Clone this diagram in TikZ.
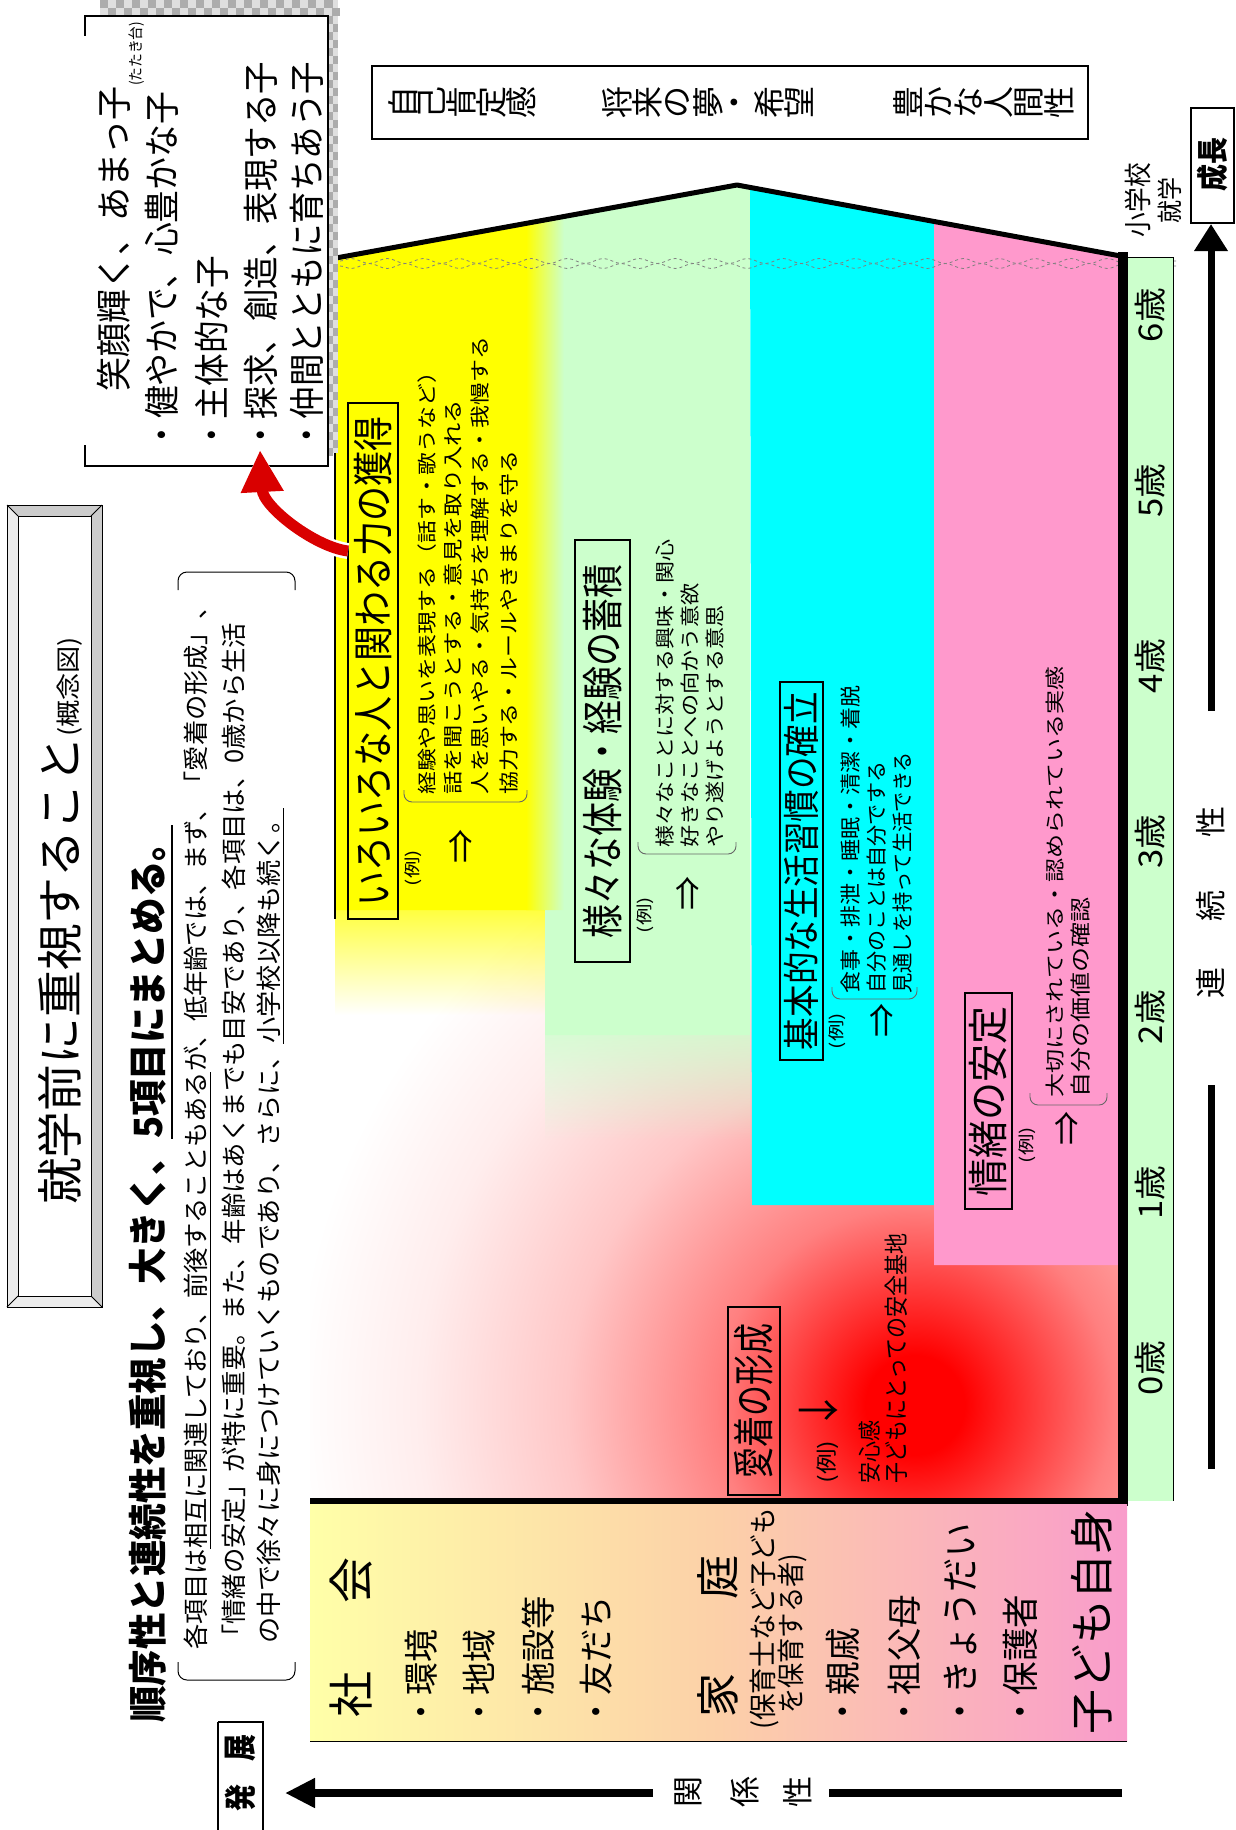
\documentclass[tikz,border=0pt]{standalone}
\usepackage{fontspec}
\newfontfamily\jp{Noto Sans CJK JP}
\usetikzlibrary{arrows.meta,decorations.pathmorphing,fadings}
\definecolor{cyel}{HTML}{FFFF00}
\definecolor{cgrn}{HTML}{CCFFCC}
\definecolor{ccyn}{HTML}{00FFFF}
\definecolor{cpnk}{HTML}{FF99CC}
\definecolor{tyel}{HTML}{FFFFA8}
\definecolor{tpea}{HTML}{FCD0A8}
\definecolor{tpnk}{HTML}{F99CCB}
\newcommand{\rsz}[3]{\resizebox{#1pt}{\dimexpr #2pt*98/100\relax}{#3}}
\pgfdeclareradialshading{redglow}{\pgfpoint{0bp}{0bp}}{color(0bp)=(red); color(2bp)=(red); color(8bp)=(red!50!white); color(14bp)=(red!22!white); color(20bp)=(red!7!white); color(25bp)=(white); color(50bp)=(white)}
\tikzfading[name=fadedown, top color=transparent!0, bottom color=transparent!100]
\tikzset{
  rt/.style={rotate=90, inner sep=0pt, font=\jp},
  ch/.style={rotate=90, inner sep=0pt, font={\jp\fontsize{#1}{#1}\selectfont}},
  bx/.style={draw=black, line width=1.2pt},
  brk/.style={draw=black!60, line width=0.9pt, rounded corners=8pt},
}
\begin{document}
\begin{tikzpicture}[x=1pt,y=-1pt]
\useasboundingbox (0,0) rectangle (1236,1830);
\fill[white] (0,0) rectangle (1236,1830);

% ---------- chart background ----------
\begin{scope}
\clip (310,257) rectangle (1120,1498);
\shade[shading=redglow] (915,1405) circle (620pt);
\end{scope}
\fill[cyel] (335,258) -- (545,219.8) -- (545,910) -- (335,910) -- cycle;
\fill[cyel, path fading=fadedown] (335,875) rectangle (545,1015);
\fill[cgrn] (545,219.8) -- (737,185) -- (750,187.4) -- (750,1035) -- (545,1035) -- cycle;
\fill[cgrn, path fading=fadedown] (545,1000) rectangle (750,1140);
\shade[left color=cyel, right color=cgrn] (526,223.3) -- (564,216.4) -- (564,910) -- (526,910) -- cycle;
\fill[ccyn] (750,187.4) -- (934,221.7) -- (934,1205) -- (752,1205) -- cycle;
\fill[cpnk] (934,221.7) -- (1120,256.4) -- (1120,1265) -- (934,1265) -- cycle;

\draw[line width=5pt, line join=round] (336,258) -- (737,185) -- (1126,257);
\draw[gray, dashed, line width=0.8pt, decorate, decoration={snake, amplitude=2.5pt, segment length=36pt}] (340,261) -- (1176,261);
\draw[gray, dashed, line width=0.8pt, decorate, decoration={snake, amplitude=2.5pt, segment length=36pt, mirror}] (340,266) -- (1176,266);
\draw[line width=1.2pt] (335,258) -- (335,919);

% age bar
\fill[cgrn] (1128,257) rectangle (1173,1501);
\draw[line width=1pt] (1123,257) -- (1174,257) (1173,257) -- (1173,1501);
\draw[line width=10pt] (1123,252) -- (1123,1506);
\draw[line width=6pt] (310,1501) -- (1128,1501);

% table
\shade[left color=tyel, right color=tpnk, middle color=tpea] (310,1504) rectangle (1127,1741);
\draw[line width=1pt] (310,1741) -- (1127,1741);

% ---------- title ----------
\fill[gray!40] (7,505) rectangle (102,1307);
\fill[gray!15] (7,505) -- (18,516) -- (18,1296) -- (7,1307) -- cycle;
\fill[gray!15] (7,1307) -- (18,1296) -- (91,1296) -- (102,1307) -- cycle;
\fill[white] (18,516) rectangle (91,1296);
\draw[line width=1pt] (7,505) rectangle (102,1307);
\draw[line width=1pt] (18,516) rectangle (91,1296);
\draw[line width=0.8pt] (7,505) -- (18,516) (102,505) -- (91,516) (7,1307) -- (18,1296) (102,1307) -- (91,1296);
\node[rt, anchor=west] (title) at (60,1205) {\rsz{468}{40}{就学前に重視すること}\rsz{100}{21}{(概念図)}};

\node[rt, anchor=west] (sub) at (152,1723) {\bfseries\rsz{898}{34}{順序性と連続性を重視し、大きく、\underline{5項目にまとめる。}}};

\node[rt, anchor=west] (p1) at (198,1650) {\rsz{1055}{22}{各項目は\underline{相互に関連しており、前後することもある}が、低年齢では、まず、「愛着の形成」、}};
\node[rt, anchor=west] (p2) at (234,1650) {\rsz{1027}{22}{「情緒の安定」が特に重要。また、年齢はあくまでも目安であり、各項目は、0歳から生活}};
\node[rt, anchor=west] (p3) at (271,1644) {\rsz{836}{22}{の中で徐々に身につけていくものであり、さらに、\underline{小学校以降も続く。}}};
\draw[line width=1pt, rounded corners=9pt] (178,1662) -- (178,1680) -- (295,1680) -- (295,1662);
\draw[line width=1pt, rounded corners=9pt] (178,590) -- (178,572) -- (295,572) -- (295,590);

% ---------- goal box ----------
\fill[gray!25] (100,0) rectangle (338,16);
\fill[gray!25] (328,0) rectangle (338,453);
\foreach \i in {0,...,29}{\foreach \j in {0,1}{\pgfmathtruncatemacro\kk{mod(\i+\j,2)}\ifnum\kk=0 \fill[gray!65] ({100+\i*8},{\j*8}) rectangle +(8,8);\fi}}
\foreach \j in {0,...,56}{\foreach \i in {0,1}{\pgfmathtruncatemacro\kk{mod(\i+\j,2)}\ifnum\kk=0 \fill[gray!65] ({328+\i*5},{\j*8}) rectangle +(5,8);\fi}}
\fill[white] (85,16) rectangle (328,466);
\draw[line width=1.5pt] (85,36) -- (85,16) -- (328,16) -- (328,466) -- (85,466) -- (85,445);
\node[rt, anchor=west] (g1) at (114,392) {\rsz{305}{31}{笑顔輝く、あまっ子}};
\node[rt, anchor=west] (g1s) at (137,86) {\rsz{64}{13}{(たたき台)}};
\node[rt, anchor=west] (g2) at (162,452) {\rsz{360}{31}{・健やかで、心豊かな子}};
\node[rt, anchor=west] (g3) at (212,452) {\rsz{196}{31}{・主体的な子}};
\node[rt, anchor=west] (g4) at (261,452) {\rsz{390}{31}{・探求、創造、表現する子}};
\node[rt, anchor=west] (g5) at (307,452) {\rsz{390}{31}{・仲間とともに育ちあう子}};

% ---------- top right box ----------
\draw[line width=1.5pt] (372,66) rectangle (1088,139);
\foreach \c [count=\i from 0] in {自,己,肯,定,感} {\node[ch=32] (ka\i) at ({403+\i*29.4},103) {\c};}
\foreach \c [count=\i from 0] in {将,来,の,夢,・,希,望} {\node[ch=32] (kb\i) at ({617+\i*30.4},103) {\c};}
\foreach \c [count=\i from 0] in {豊,か,な,人,間,性} {\node[ch=32] (kc\i) at ({908+\i*30.3},103) {\c};}

% ---------- growth axis ----------
\draw[line width=1.3pt] (1191,108) rectangle (1234,223);
\node[rt] (seicho) at (1212,165) {\bfseries\rsz{54}{28}{成長}};
\node[rt] (shu1) at (1138,200) {\rsz{74}{24}{小学校}};
\node[rt] (shu2) at (1170,200) {\rsz{46}{22}{就学}};
\coordinate (ga) at (1211,1469);
\coordinate (gb) at (1211,1085);
\coordinate (gc) at (1211,711);
\coordinate (gt) at (1211,224);
\draw[line width=7pt] (ga) -- (gb);
\draw[line width=7pt, -{Triangle[length=27pt,width=32pt]}] (gc) -- (gt);
\node[ch=31] (r1) at (1211,983) {連};
\node[ch=31] (r2) at (1211,906) {続};
\node[ch=31] (r3) at (1211,822) {性};
\foreach \ag/\yy in {0/1368,1/1192.5,2/1017,3/841.5,4/666,5/490.5,6/315} {\node[rt] (age\ag) at (1150,\yy) {\rsz{54}{28}{\ag 歳}};}

% ---------- yellow section ----------
\draw[bx] (348,403) rectangle (398,919);
\node[rt] (yb) at (373,661) {\rsz{490}{35}{いろいろな人と関わる力の獲得}};
\node[rt] (yr) at (413,868) {\rsz{36}{14}{(例)}};
\node[ch=34] (ya) at (461,846) {⇒};
\draw[brk] (404,790) -- (404,802) -- (527,802) -- (527,790);
\node[rt, anchor=west] (y1) at (427,795) {\rsz{434}{17}{経験や思いを表現する（話す・歌うなど）}};
\node[rt, anchor=west] (y2) at (453,795) {\rsz{395}{17}{話を聞こうとする・意見を取り入れる}};
\node[rt, anchor=west] (y3) at (480,795) {\rsz{458}{17}{人を思いやる・気持ちを理解する・我慢する}};
\node[rt, anchor=west] (y4) at (509,795) {\rsz{344}{17}{協力する・ルールやきまりを守る}};

% ---------- green section ----------
\draw[bx] (575,540) rectangle (630,962);
\node[rt] (gbx) at (602.5,751) {\rsz{374}{36}{様々な体験・経験の蓄積}};
\node[rt] (gr) at (645,915) {\rsz{36}{14}{(例)}};
\node[ch=34] (ga2) at (688,893) {⇒};
\draw[brk] (638,842) -- (638,854) -- (736,854) -- (736,842);
\node[rt, anchor=west] (gl1) at (665,848) {\rsz{308}{17}{様々なことに対する興味・関心}};
\node[rt, anchor=west] (gl2) at (690,848) {\rsz{264}{17}{好きなことへの向かう意欲}};
\node[rt, anchor=west] (gl3) at (715,848) {\rsz{242}{17}{やり遂げようとする意思}};

% ---------- cyan section ----------
\draw[bx] (780,682) rectangle (823,1060);
\node[rt] (cb) at (801.5,871) {\rsz{358}{32}{基本的な生活習慣の確立}};
\node[rt] (cr) at (837,1031) {\rsz{36}{14}{(例)}};
\node[ch=34] (ca) at (882,1020) {⇒};
\draw[brk] (832,987) -- (832,999) -- (917,999) -- (917,987);
\node[rt, anchor=west] (c1) at (851,994) {\rsz{308}{18}{食事・排泄・睡眠・清潔・着脱}};
\node[rt, anchor=west] (c2) at (877,994) {\rsz{232}{18}{自分のことは自分でする}};
\node[rt, anchor=west] (c3) at (903,994) {\rsz{242}{18}{見通しを持って生活できる}};

% ---------- pink section ----------
\draw[bx] (965,993) rectangle (1012,1209);
\node[rt] (pb) at (988.5,1101) {\rsz{190}{35}{情緒の安定}};
\node[rt] (pr) at (1027,1145) {\rsz{36}{14}{(例)}};
\node[ch=34] (pa) at (1067,1128) {⇒};
\draw[brk] (1030,1093) -- (1030,1105) -- (1107,1105) -- (1107,1093);
\node[rt, anchor=west] (pl1) at (1055,1098) {\rsz{431}{17}{大切にされている・認められている実感}};
\node[rt, anchor=west] (pl2) at (1081,1098) {\rsz{200}{18}{自分の価値の確認}};

% ---------- attachment ----------
\draw[bx] (728,1307) rectangle (780,1495);
\node[rt] (ab) at (754,1401) {\rsz{155}{36}{愛着の形成}};
\node[ch=42] (aa) at (819,1410) {↓};
\node[rt] (ar) at (828,1462) {\rsz{43}{18}{(例)}};
\node[rt, anchor=west] (a1) at (870,1484) {\rsz{63}{20}{安心感}};
\node[rt, anchor=west] (a2) at (896,1484) {\rsz{250}{21}{子どもにとっての安全基地}};

% ---------- table texts ----------
\node[ch=46] (s1) at (351,1694) {社};
\node[ch=46] (s2) at (351,1580) {会};
\node[rt, anchor=west] (t1) at (421,1729) {\rsz{99}{30}{・環境}};
\node[rt, anchor=west] (t2) at (479,1729) {\rsz{99}{30}{・地域}};
\node[rt, anchor=west] (t3) at (538,1729) {\rsz{133}{30}{・施設等}};
\node[rt, anchor=west] (t4) at (596,1729) {\rsz{133}{30}{・友だち}};
\node[ch=44] (k1) at (718,1695) {家};
\node[ch=44] (k2) at (718,1577) {庭};
\node[rt, anchor=west] (k3) at (764,1730) {\rsz{222}{24}{(保育士など子ども}};
\node[rt, anchor=west] (k4) at (792,1714) {\rsz{160}{24}{を保育する者)}};
\node[rt, anchor=west] (t5) at (843,1729) {\rsz{101}{31}{・親戚}};
\node[rt, anchor=west] (t6) at (904,1729) {\rsz{134}{30}{・祖父母}};
\node[rt, anchor=west] (t7) at (961,1729) {\rsz{205}{31}{・きょうだい}};
\node[rt, anchor=west] (t8) at (1020,1729) {\rsz{134}{32}{・保護者}};
\node[rt, anchor=west] (t9) at (1092,1735) {\rsz{225}{38}{子ども自身}};

% ---------- relation axis ----------
\coordinate (ra) at (1122,1793);
\coordinate (rb) at (829,1793);
\coordinate (rc) at (653,1793);
\draw[line width=1.3pt] (218,1722) -- (263,1722) -- (263,1835) (218,1722) -- (218,1835);
\node[rt] (hat1) at (240,1798) {\bfseries\rsz{27}{28}{発}};
\node[rt] (hat2) at (240,1748) {\bfseries\rsz{27}{28}{展}};
\coordinate (rtip) at (285,1793);
\draw[line width=8pt] (ra) -- (rb);
\draw[line width=8pt, -{Triangle[length=30pt,width=28pt]}] (rc) -- (rtip);
\node[ch=31] (kk1) at (688,1792) {関};
\node[ch=31] (kk2) at (745,1792) {係};
\node[ch=31] (kk3) at (798,1792) {性};

% ---------- red arrow ----------
\coordinate (at) at (348,551);
\coordinate (ah) at (260,450);
\draw[white, line width=16pt, -{Triangle[length=48pt,width=48pt]}] (at) .. controls (315,547) and (263,507) .. (ah);
\draw[red!85!black, line width=11pt, -{Triangle[length=42pt,width=40pt]}] (at) .. controls (315,547) and (263,507) .. (ah);
\end{tikzpicture}
\end{document}
